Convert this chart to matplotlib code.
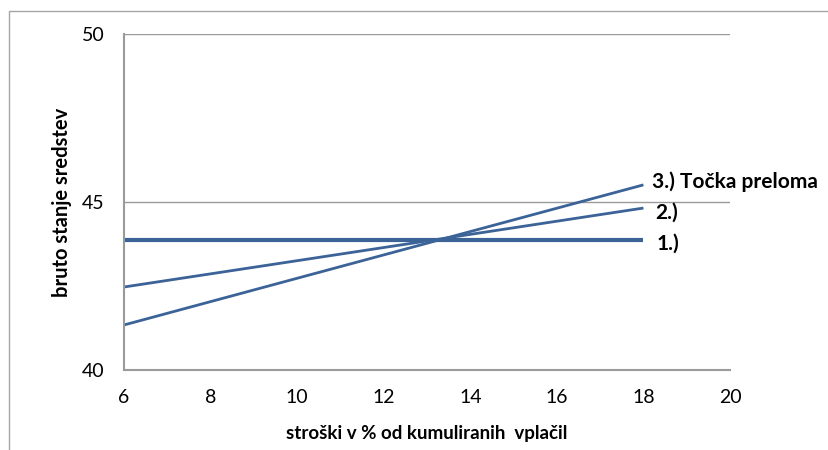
import matplotlib.pyplot as plt
from matplotlib.patches import Rectangle

# stroški (% od kumuliranih vplačil) at the two ends of each scenario line
costs = [6, 18]
scenario_1 = [43.87, 43.87]
scenario_2 = [42.47, 44.82]
scenario_3 = [41.34, 45.51]
labels = ["1.)", "2.)", "3.) Točka preloma"]

x_ticks = [6, 8, 10, 12, 14, 16, 18, 20]
y_ticks = [40, 45, 50]

plt.rcParams["font.family"] = ["Lato", "DejaVu Sans"]

blue = "#3b6398"
grey = "#9a9a9a"

fig = plt.figure(figsize=(8.29, 4.5), dpi=100)
fig.patches.append(Rectangle((9 / 829, -0.1), 1.2, (450 - 11) / 450 + 0.1,
                             transform=fig.transFigure, fill=False,
                             edgecolor="#a6a6a6", linewidth=1.0))

ax = fig.add_axes([124 / 829, 80 / 450, 606 / 829, 336 / 450])

ax.plot(costs, scenario_1, color=blue, lw=3.0, solid_capstyle="butt")
ax.plot(costs, scenario_2, color=blue, lw=2.0, solid_capstyle="butt")
ax.plot(costs, scenario_3, color=blue, lw=2.0, solid_capstyle="butt")

ax.text(18.3, scenario_1[-1] - 0.12, labels[0], fontsize=15,
        fontweight="bold", va="center", ha="left")
ax.text(18.27, scenario_2[-1] - 0.15, labels[1], fontsize=15,
        fontweight="bold", va="center", ha="left")
ax.text(18.2, scenario_3[-1] + 0.08, labels[2], fontsize=15,
        fontweight="bold", va="center", ha="left")

ax.set_xlim(6, 20)
ax.set_ylim(40, 50)
ax.set_xticks(x_ticks)
ax.set_yticks(y_ticks)
ax.tick_params(length=0, labelsize=14)
ax.tick_params(axis="y", pad=14)
ax.tick_params(axis="x", pad=14)

ax.grid(axis="y", color=grey, lw=1.0)
ax.set_axisbelow(True)
for side in ["top", "right"]:
    ax.spines[side].set_visible(False)
for side in ["left", "bottom"]:
    ax.spines[side].set_color(grey)
    ax.spines[side].set_linewidth(1.5)

ax.set_xlabel("stroški v % od kumuliranih  vplačil", fontsize=13.5,
              fontweight="bold")
ax.set_ylabel("bruto stanje sredstev", fontsize=14.5, fontweight="bold")
ax.xaxis.set_label_coords(0.5, -0.163)
ax.yaxis.set_label_coords(-0.086, 0.5)

fig.savefig("out.png", dpi=100)
